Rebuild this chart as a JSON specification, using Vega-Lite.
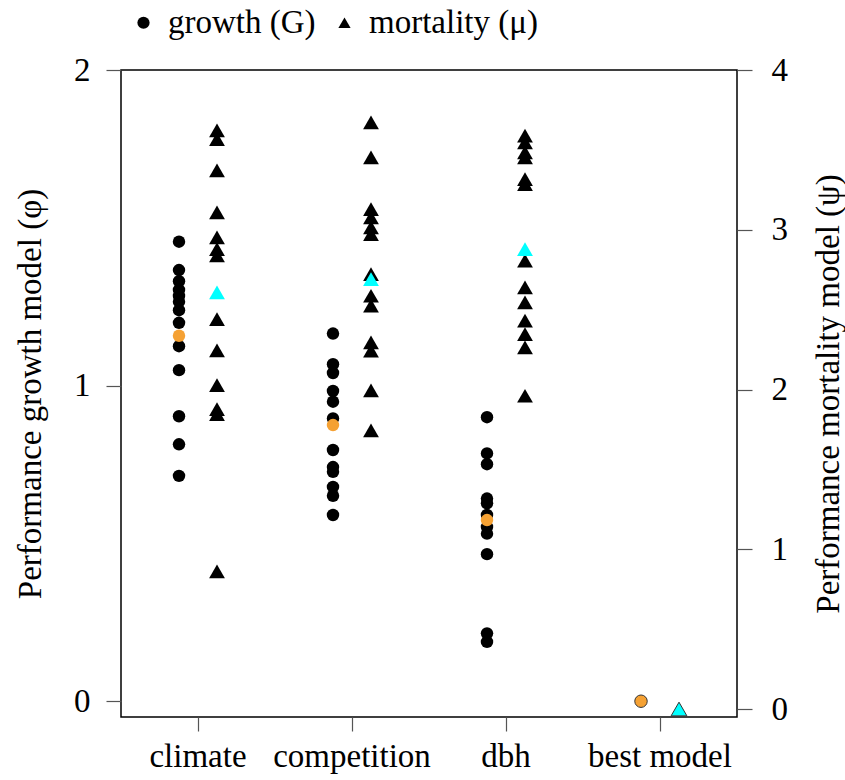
{
  "$schema": "https://vega.github.io/schema/vega-lite/v6.json",
  "width": 616,
  "height": 647,
  "autosize": "none",
  "padding": {"left": 121, "top": 70, "right": 108, "bottom": 63},
  "background": "white",
  "config": {
    "view": {"stroke": "black", "strokeWidth": 1.5},
    "font": "Liberation Serif",
    "axis": {"labelFont": "Liberation Serif", "titleFont": "Liberation Serif", "titleFontWeight": "normal", "labelColor": "black", "titleColor": "black", "tickColor": "#555", "tickWidth": 1.2, "grid": false, "domain": false, "labelOverlap": false}
  },
  "data": {
    "values": [
      {"model": "climate", "kind": "growth (G)", "role": "candidate", "value": 1.456},
      {"model": "climate", "kind": "growth (G)", "role": "candidate", "value": 1.366},
      {"model": "climate", "kind": "growth (G)", "role": "candidate", "value": 1.331},
      {"model": "climate", "kind": "growth (G)", "role": "candidate", "value": 1.303},
      {"model": "climate", "kind": "growth (G)", "role": "candidate", "value": 1.284},
      {"model": "climate", "kind": "growth (G)", "role": "candidate", "value": 1.266},
      {"model": "climate", "kind": "growth (G)", "role": "candidate", "value": 1.239},
      {"model": "climate", "kind": "growth (G)", "role": "candidate", "value": 1.199},
      {"model": "climate", "kind": "growth (G)", "role": "candidate", "value": 1.125},
      {"model": "climate", "kind": "growth (G)", "role": "candidate", "value": 1.049},
      {"model": "climate", "kind": "growth (G)", "role": "candidate", "value": 0.903},
      {"model": "climate", "kind": "growth (G)", "role": "candidate", "value": 0.814},
      {"model": "climate", "kind": "growth (G)", "role": "candidate", "value": 0.714},
      {"model": "competition", "kind": "growth (G)", "role": "candidate", "value": 1.165},
      {"model": "competition", "kind": "growth (G)", "role": "candidate", "value": 1.068},
      {"model": "competition", "kind": "growth (G)", "role": "candidate", "value": 1.040},
      {"model": "competition", "kind": "growth (G)", "role": "candidate", "value": 0.983},
      {"model": "competition", "kind": "growth (G)", "role": "candidate", "value": 0.949},
      {"model": "competition", "kind": "growth (G)", "role": "candidate", "value": 0.896},
      {"model": "competition", "kind": "growth (G)", "role": "candidate", "value": 0.796},
      {"model": "competition", "kind": "growth (G)", "role": "candidate", "value": 0.742},
      {"model": "competition", "kind": "growth (G)", "role": "candidate", "value": 0.727},
      {"model": "competition", "kind": "growth (G)", "role": "candidate", "value": 0.679},
      {"model": "competition", "kind": "growth (G)", "role": "candidate", "value": 0.651},
      {"model": "competition", "kind": "growth (G)", "role": "candidate", "value": 0.590},
      {"model": "dbh", "kind": "growth (G)", "role": "candidate", "value": 0.900},
      {"model": "dbh", "kind": "growth (G)", "role": "candidate", "value": 0.785},
      {"model": "dbh", "kind": "growth (G)", "role": "candidate", "value": 0.751},
      {"model": "dbh", "kind": "growth (G)", "role": "candidate", "value": 0.642},
      {"model": "dbh", "kind": "growth (G)", "role": "candidate", "value": 0.627},
      {"model": "dbh", "kind": "growth (G)", "role": "candidate", "value": 0.590},
      {"model": "dbh", "kind": "growth (G)", "role": "candidate", "value": 0.552},
      {"model": "dbh", "kind": "growth (G)", "role": "candidate", "value": 0.531},
      {"model": "dbh", "kind": "growth (G)", "role": "candidate", "value": 0.466},
      {"model": "dbh", "kind": "growth (G)", "role": "candidate", "value": 0.215},
      {"model": "dbh", "kind": "growth (G)", "role": "candidate", "value": 0.188},
      {"model": "climate", "kind": "growth (G)", "role": "selected", "value": 1.158},
      {"model": "competition", "kind": "growth (G)", "role": "selected", "value": 0.875},
      {"model": "dbh", "kind": "growth (G)", "role": "selected", "value": 0.574},
      {"model": "best model", "kind": "growth (G)", "role": "best", "value": 0},
      {"model": "climate", "kind": "mortality (μ)", "role": "candidate", "value": 3.622},
      {"model": "climate", "kind": "mortality (μ)", "role": "candidate", "value": 3.567},
      {"model": "climate", "kind": "mortality (μ)", "role": "candidate", "value": 3.372},
      {"model": "climate", "kind": "mortality (μ)", "role": "candidate", "value": 3.109},
      {"model": "climate", "kind": "mortality (μ)", "role": "candidate", "value": 2.952},
      {"model": "climate", "kind": "mortality (μ)", "role": "candidate", "value": 2.879},
      {"model": "climate", "kind": "mortality (μ)", "role": "candidate", "value": 2.839},
      {"model": "climate", "kind": "mortality (μ)", "role": "candidate", "value": 2.441},
      {"model": "climate", "kind": "mortality (μ)", "role": "candidate", "value": 2.245},
      {"model": "climate", "kind": "mortality (μ)", "role": "candidate", "value": 2.028},
      {"model": "climate", "kind": "mortality (μ)", "role": "candidate", "value": 1.877},
      {"model": "climate", "kind": "mortality (μ)", "role": "candidate", "value": 1.846},
      {"model": "climate", "kind": "mortality (μ)", "role": "candidate", "value": 0.861},
      {"model": "competition", "kind": "mortality (μ)", "role": "candidate", "value": 3.672},
      {"model": "competition", "kind": "mortality (μ)", "role": "candidate", "value": 3.453},
      {"model": "competition", "kind": "mortality (μ)", "role": "candidate", "value": 3.129},
      {"model": "competition", "kind": "mortality (μ)", "role": "candidate", "value": 3.077},
      {"model": "competition", "kind": "mortality (μ)", "role": "candidate", "value": 3.015},
      {"model": "competition", "kind": "mortality (μ)", "role": "candidate", "value": 2.973},
      {"model": "competition", "kind": "mortality (μ)", "role": "candidate", "value": 2.722},
      {"model": "competition", "kind": "mortality (μ)", "role": "candidate", "value": 2.587},
      {"model": "competition", "kind": "mortality (μ)", "role": "candidate", "value": 2.525},
      {"model": "competition", "kind": "mortality (μ)", "role": "candidate", "value": 2.295},
      {"model": "competition", "kind": "mortality (μ)", "role": "candidate", "value": 2.243},
      {"model": "competition", "kind": "mortality (μ)", "role": "candidate", "value": 1.994},
      {"model": "competition", "kind": "mortality (μ)", "role": "candidate", "value": 1.744},
      {"model": "dbh", "kind": "mortality (μ)", "role": "candidate", "value": 3.589},
      {"model": "dbh", "kind": "mortality (μ)", "role": "candidate", "value": 3.547},
      {"model": "dbh", "kind": "mortality (μ)", "role": "candidate", "value": 3.484},
      {"model": "dbh", "kind": "mortality (μ)", "role": "candidate", "value": 3.453},
      {"model": "dbh", "kind": "mortality (μ)", "role": "candidate", "value": 3.317},
      {"model": "dbh", "kind": "mortality (μ)", "role": "candidate", "value": 3.286},
      {"model": "dbh", "kind": "mortality (μ)", "role": "candidate", "value": 2.806},
      {"model": "dbh", "kind": "mortality (μ)", "role": "candidate", "value": 2.639},
      {"model": "dbh", "kind": "mortality (μ)", "role": "candidate", "value": 2.545},
      {"model": "dbh", "kind": "mortality (μ)", "role": "candidate", "value": 2.431},
      {"model": "dbh", "kind": "mortality (μ)", "role": "candidate", "value": 2.347},
      {"model": "dbh", "kind": "mortality (μ)", "role": "candidate", "value": 2.264},
      {"model": "dbh", "kind": "mortality (μ)", "role": "candidate", "value": 1.961},
      {"model": "climate", "kind": "mortality (μ)", "role": "selected", "value": 2.608},
      {"model": "competition", "kind": "mortality (μ)", "role": "selected", "value": 2.691},
      {"model": "dbh", "kind": "mortality (μ)", "role": "selected", "value": 2.879},
      {"model": "best model", "kind": "mortality (μ)", "role": "best", "value": 0}
    ]
  },
  "encoding": {
    "x": {
      "field": "model",
      "type": "nominal",
      "sort": ["climate", "competition", "dbh", "best model"],
      "scale": {"domain": ["climate", "competition", "dbh", "best model"], "paddingInner": 0, "paddingOuter": 0},
      "axis": {"title": null, "labelAngle": 0, "labelFontSize": 33, "labelPadding": 9, "tickSize": 14, "labelBaseline": "top"}
    },
    "xOffset": {
      "field": "kind",
      "type": "nominal",
      "scale": {"type": "point", "domain": ["growth (G)", "mortality (μ)"], "range": [58, 96], "padding": 0}
    },
    "shape": {
      "field": "kind",
      "type": "nominal",
      "scale": {"domain": ["growth (G)", "mortality (μ)"], "range": ["circle", "triangle-up"]},
      "legend": {
        "title": null,
        "orient": "none",
        "legendX": 6,
        "legendY": -64,
        "direction": "horizontal",
        "labelFontSize": 33,
        "labelFont": "Liberation Serif",
        "labelColor": "black",
        "labelLimit": 400,
        "symbolFillColor": "black",
        "symbolStrokeColor": "black",
        "symbolOpacity": 1,
        "symbolSize": 150,
        "symbolStrokeWidth": 0,
        "columnPadding": 12,
        "labelOffset": 8
      }
    }
  },
  "layer": [
    {
      "transform": [{"filter": "datum.kind === 'growth (G)'"}],
      "mark": {"type": "point", "filled": true, "size": 155, "opacity": 1, "strokeWidth": 1},
      "encoding": {
        "y": {
          "field": "value",
          "type": "quantitative",
          "scale": {"domain": [-0.05, 2], "nice": false, "zero": false},
          "axis": {"orient": "left", "values": [0, 1, 2], "labelExpr": "'' + datum.value", "tickSize": 15, "labelFontSize": 33, "labelPadding": 16, "title": "Performance growth model (φ)", "titleFontSize": 33, "titlePadding": 26}
        },
        "fill": {
          "field": "role",
          "type": "nominal",
          "scale": {"domain": ["candidate", "selected", "best"], "range": ["black", "#F5A133", "#F5A133"]},
          "legend": null
        },
        "stroke": {
          "field": "role",
          "type": "nominal",
          "scale": {"domain": ["candidate", "selected", "best"], "range": ["transparent", "transparent", "#333333"]},
          "legend": null
        }
      }
    },
    {
      "transform": [{"filter": "datum.kind === 'mortality (μ)'"}],
      "mark": {"type": "point", "filled": true, "size": 250, "opacity": 1, "strokeWidth": 1},
      "encoding": {
        "y": {
          "field": "value",
          "type": "quantitative",
          "scale": {"domain": [-0.05, 4], "nice": false, "zero": false},
          "axis": {"orient": "right", "values": [0, 1, 2, 3, 4], "labelExpr": "'' + datum.value", "tickSize": 15, "labelFontSize": 33, "labelPadding": 19, "title": "Performance mortality model (ψ)", "titleAngle": 270, "titleBaseline": "bottom", "titleFontSize": 33, "titlePadding": 58}
        },
        "fill": {
          "field": "role",
          "type": "nominal",
          "scale": {"domain": ["candidate", "selected", "best"], "range": ["black", "#00FFFF", "#00FFFF"]},
          "legend": null
        },
        "stroke": {
          "field": "role",
          "type": "nominal",
          "scale": {"domain": ["candidate", "selected", "best"], "range": ["transparent", "transparent", "#333333"]},
          "legend": null
        }
      }
    }
  ],
  "resolve": {"scale": {"y": "independent", "fill": "independent", "stroke": "independent"}}
}
